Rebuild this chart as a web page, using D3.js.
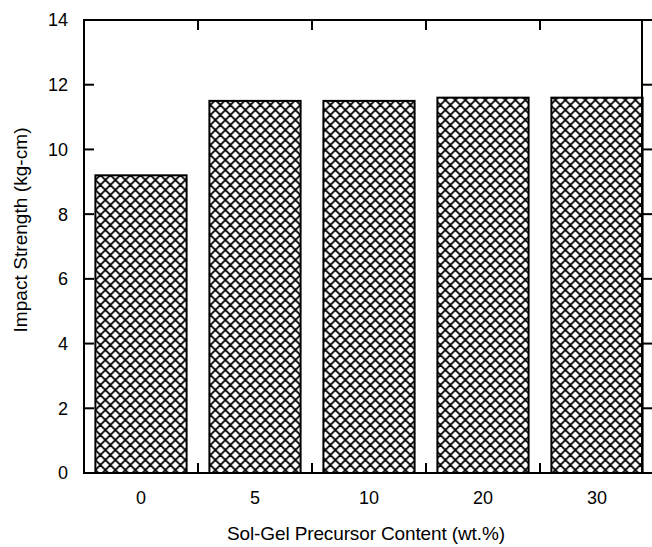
<!DOCTYPE html>
<html>
<head>
    <meta charset="utf-8">
    <title>impact strength</title>
    <script src="https://d3js.org/d3.v7.min.js"></script>
    <style>
        body { margin: 0; background: #fff; }
        text { font-family: "Liberation Sans", Arial, sans-serif; fill: #000; }
    </style>
</head>
<body>
    <svg width="652" height="547" id="mainsvg"></svg>
    <script>
        // data
        const categories = ['0', '5', '10', '20', '30'];
        const values = [9.2, 11.5, 11.5, 11.6, 11.6];
        const yTicks = [0, 2, 4, 6, 8, 10, 12, 14];

        const svg = d3.select('#mainsvg');
        const margin = { top: 20, left: 84, bottom: 74 };
        const height = +svg.attr('height');
        const frameRight = 642;

        // bands run a bit past the frame on the right, like the original
        const x = d3.scaleBand()
            .domain(categories)
            .range([margin.left, margin.left + 114 * 5])
            .paddingInner(0.2)
            .paddingOuter(0.1);
        const y = d3.scaleLinear()
            .domain([0, 14])
            .range([height - margin.bottom, margin.top]);

        // cross hatch pattern
        const defs = svg.append('defs');
        const pat = defs.append('pattern')
            .attr('id', 'hatch')
            .attr('patternUnits', 'userSpaceOnUse')
            .attr('width', 10).attr('height', 10)
            .attr('x', x(categories[0])).attr('y', 0);
        pat.append('rect').attr('width', 10).attr('height', 10).attr('fill', '#fff');
        pat.append('path')
            .attr('d', 'M-5,5 L5,-5 M0,10 L10,0 M5,15 L15,5 M-5,5 L5,15 M0,0 L10,10 M5,-5 L15,5')
            .attr('stroke', '#000')
            .attr('stroke-width', 1.8);

        const g = svg.append('g');

        // bars
        g.selectAll('rect.bar').data(values)
            .enter().append('rect')
            .attr('class', 'bar')
            .attr('x', (d, i) => x(categories[i]))
            .attr('y', d => y(d))
            .attr('width', x.bandwidth())
            .attr('height', d => y(0) - y(d))
            .attr('fill', 'url(#hatch)')
            .attr('stroke', '#000')
            .attr('stroke-width', 2);

        // frame
        const yTop = y(14), yBot = y(0);
        g.append('rect')
            .attr('x', margin.left).attr('y', yTop)
            .attr('width', frameRight - margin.left)
            .attr('height', yBot - yTop)
            .attr('fill', 'none')
            .attr('stroke', '#000')
            .attr('stroke-width', 2);

        // y ticks: inward on the left, outward on the right
        yTicks.forEach(t => {
            g.append('line')
                .attr('x1', margin.left).attr('x2', margin.left + 10)
                .attr('y1', y(t)).attr('y2', y(t))
                .attr('stroke', '#000').attr('stroke-width', 2);
            g.append('line')
                .attr('x1', frameRight).attr('x2', frameRight + 10)
                .attr('y1', y(t)).attr('y2', y(t))
                .attr('stroke', '#000').attr('stroke-width', 2);
            g.append('text')
                .attr('x', 68)
                .attr('y', y(t))
                .attr('dy', '0.36em')
                .attr('text-anchor', 'end')
                .style('font-size', '18px')
                .text(t);
        });

        // x separators between bars, top and bottom, inward
        categories.slice(1).forEach(c => {
            const xs = x(c) - x.step() * x.paddingInner() / 2;
            g.append('line')
                .attr('x1', xs).attr('x2', xs)
                .attr('y1', yTop).attr('y2', yTop + 10)
                .attr('stroke', '#000').attr('stroke-width', 2);
            g.append('line')
                .attr('x1', xs).attr('x2', xs)
                .attr('y1', yBot).attr('y2', yBot - 10)
                .attr('stroke', '#000').attr('stroke-width', 2);
        });

        // x labels
        g.selectAll('text.xl').data(categories)
            .enter().append('text')
            .attr('class', 'xl')
            .attr('x', d => x(d) + x.bandwidth() / 2)
            .attr('y', yBot + 25)
            .attr('dy', '0.36em')
            .attr('text-anchor', 'middle')
            .style('font-size', '18px')
            .text(d => d);

        // axis titles
        svg.append('text')
            .attr('x', 366).attr('y', 533)
            .attr('dy', '0.36em')
            .attr('text-anchor', 'middle')
            .style('font-size', '19px')
            .attr('textLength', 278)
            .text('Sol-Gel Precursor Content (wt.%)');

        svg.append('text')
            .attr('transform', 'translate(20,230) rotate(-90)')
            .attr('dy', '0.36em')
            .attr('text-anchor', 'middle')
            .style('font-size', '19px')
            .attr('textLength', 205)
            .text('Impact Strength (kg-cm)');
    </script>
</body>
</html>
